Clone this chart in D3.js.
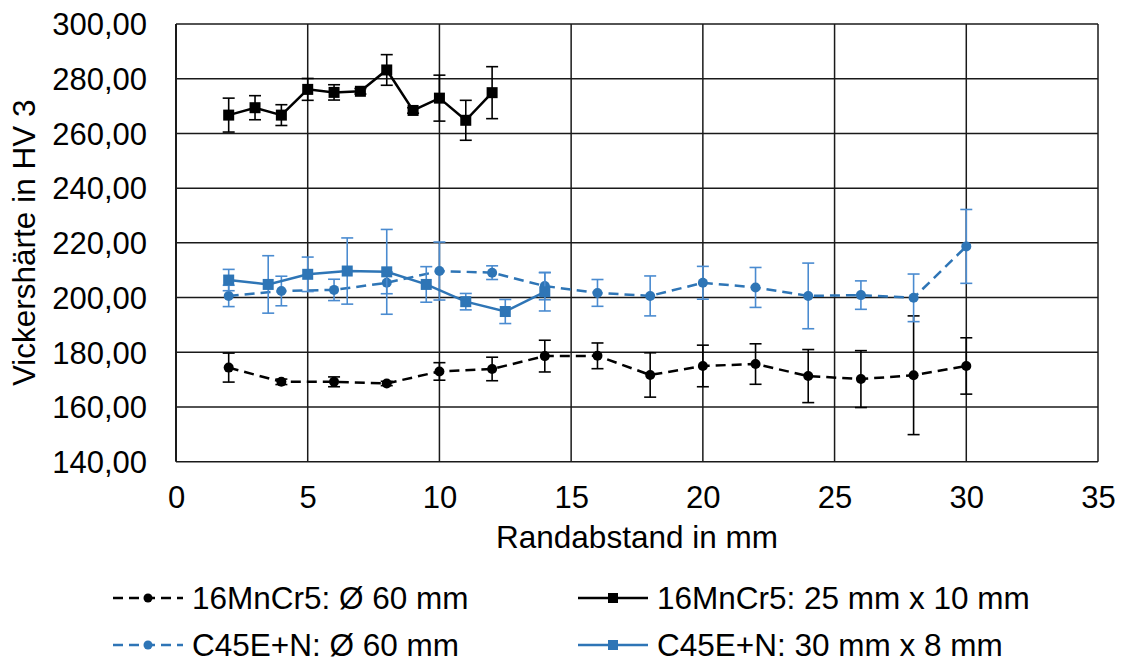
<!DOCTYPE html>
<html><head><meta charset="utf-8">
<script src="https://cdn.jsdelivr.net/npm/d3@7"></script>
<style>body{margin:0;background:#fff}svg{font-family:"Liberation Sans",Arial,sans-serif}</style>
</head><body><svg id="c" width="1124" height="664"></svg>
<script>
// Data
const xMn60 = [2,4,6,8,10,12,14,16,18,20,22,24,26,28,30];
const yMn60 = [174.4,169.2,169.2,168.6,173.0,173.9,178.6,178.7,171.7,175.0,175.7,171.3,170.2,171.6,175.0];
const eMn60 = [5.3,1.0,1.8,0.8,3.2,4.3,5.8,4.7,8.1,7.6,7.4,9.7,10.4,21.7,10.3];

const xMn25 = [2,3,4,5,6,7,8,9,10,11,12];
const yMn25 = [266.7,269.4,266.7,276.1,275.0,275.4,283.2,268.4,272.9,264.8,274.9];
const eMn25 = [6.2,4.4,3.8,4.0,2.8,1.0,5.6,1.0,8.4,7.3,9.5];

const xC60 = [2,4,6,8,10,12,14,16,18,20,22,24,26,28,30];
const yC60 = [200.6,202.4,202.8,205.4,209.7,209.1,204.2,201.7,200.6,205.4,203.7,200.6,200.9,199.9,218.7];
const eC60 = [3.9,5.4,3.9,4.0,10.6,2.5,5.0,4.9,7.3,6.0,7.3,12.0,5.2,8.7,13.5];

const xC30 = [2,3.5,5,6.5,8,9.5,11,12.5,14];
const yC30 = [206.4,204.8,208.5,209.7,209.4,204.8,198.5,194.9,202.1];
const eC30 = [3.9,10.5,6.3,12.1,15.5,6.5,3.0,4.4,7.0];

const xTicks = [0,5,10,15,20,25,30,35];
const yTicks = [140,160,180,200,220,240,260,280,300];
const legendLabels = ["16MnCr5: Ø 60 mm","16MnCr5: 25 mm x 10 mm","C45E+N: Ø 60 mm","C45E+N: 30 mm x 8 mm"];

const FS = 31;
const svg = d3.select("#c");
const x = d3.scaleLinear().domain([0,35]).range([176,1098]);
const y = d3.scaleLinear().domain([140,300]).range([461.7,24]);
const blue = "#2E75B6", blueErr = "#4A8BD0";
const fmt = v => d3.format(".2f")(v).replace(".", ",");

// grid
svg.append("g").selectAll("line").data(yTicks).join("line")
  .attr("x1",x(0)).attr("x2",x(35)).attr("y1",d=>y(d)).attr("y2",d=>y(d))
  .attr("stroke","#1a1a1a").attr("stroke-width",1.5);
svg.append("g").selectAll("line").data(xTicks).join("line")
  .attr("y1",y(140)).attr("y2",y(300)).attr("x1",d=>x(d)).attr("x2",d=>x(d))
  .attr("stroke","#1a1a1a").attr("stroke-width",d=>d===0?2:1.5);

// axes labels via d3 axes
const ax = svg.append("g").attr("transform",`translate(0,${y(140)})`)
  .call(d3.axisBottom(x).tickValues(xTicks).tickSize(0).tickFormat(d3.format("d")));
ax.select(".domain").remove();
ax.selectAll("text").attr("font-size",FS).attr("fill","#000").attr("y",46).attr("dy",0)
  .attr("font-family","Liberation Sans, Arial, sans-serif");
const ay = svg.append("g").attr("transform",`translate(${x(0)},0)`)
  .call(d3.axisLeft(y).tickValues(yTicks).tickSize(0).tickFormat(fmt));
ay.select(".domain").remove();
ay.selectAll("text").attr("font-size",FS).attr("fill","#000").attr("x",-29).attr("dy","0.35em")
  .attr("font-family","Liberation Sans, Arial, sans-serif");

svg.append("text").attr("x",x(17.5)).attr("y",548).attr("text-anchor","middle")
  .attr("font-size",31.5).text("Randabstand in mm");
svg.append("text").attr("transform",`translate(35,${y(220)}) rotate(-90)`).attr("text-anchor","middle")
  .attr("font-size",31.5).text("Vickershärte in HV 3");

function series(xs, ys, es, color, ecolor, dashed, marker){
  const pts = xs.map((d,i)=>({x:d,y:ys[i],e:es[i]}));
  const g = svg.append("g");
  const eb = g.append("g").attr("stroke",ecolor).attr("stroke-width",1.6);
  pts.forEach(p=>{
    eb.append("line").attr("x1",x(p.x)).attr("x2",x(p.x)).attr("y1",y(p.y-p.e)).attr("y2",y(p.y+p.e));
    [p.y-p.e,p.y+p.e].forEach(v=>eb.append("line").attr("x1",x(p.x)-6).attr("x2",x(p.x)+6).attr("y1",y(v)).attr("y2",y(v)));
  });
  g.append("path").datum(pts).attr("fill","none").attr("stroke",color).attr("stroke-width",2.5)
    .attr("stroke-dasharray",dashed?"10,6":null)
    .attr("d",d3.line().x(d=>x(d.x)).y(d=>y(d.y)));
  if(marker==="circle"){
    g.selectAll("circle").data(pts).join("circle").attr("cx",d=>x(d.x)).attr("cy",d=>y(d.y)).attr("r",5).attr("fill",color);
  } else {
    g.selectAll("rect").data(pts).join("rect").attr("x",d=>x(d.x)-5.5).attr("y",d=>y(d.y)-5.5).attr("width",11).attr("height",11).attr("fill",color);
  }
}
series(xMn60,yMn60,eMn60,"#000","#000",true,"circle");
series(xC60,yC60,eC60,blue,blueErr,true,"circle");
series(xC30,yC30,eC30,blue,blueErr,false,"square");
series(xMn25,yMn25,eMn25,"#000","#000",false,"square");

// legend
const leg = [
  {lx:113, ly:598, color:"#000", dashed:true, marker:"circle"},
  {lx:578, ly:598, color:"#000", dashed:false, marker:"square"},
  {lx:113, ly:645, color:blue, dashed:true, marker:"circle"},
  {lx:578, ly:645, color:blue, dashed:false, marker:"square"}
];
leg.forEach((l,i)=>{
  const g = svg.append("g");
  g.append("line").attr("x1",l.lx).attr("x2",l.lx+70).attr("y1",l.ly).attr("y2",l.ly)
    .attr("stroke",l.color).attr("stroke-width",2.5).attr("stroke-dasharray",l.dashed?"10,6":null);
  if(l.marker==="circle") g.append("circle").attr("cx",l.lx+35).attr("cy",l.ly).attr("r",4.5).attr("fill",l.color);
  else g.append("rect").attr("x",l.lx+30).attr("y",l.ly-5).attr("width",10).attr("height",10).attr("fill",l.color);
  g.append("text").attr("x",l.lx+79).attr("y",l.ly).attr("dy","0.35em").attr("font-size",31.5).text(legendLabels[i]);
});
</script></body></html>
